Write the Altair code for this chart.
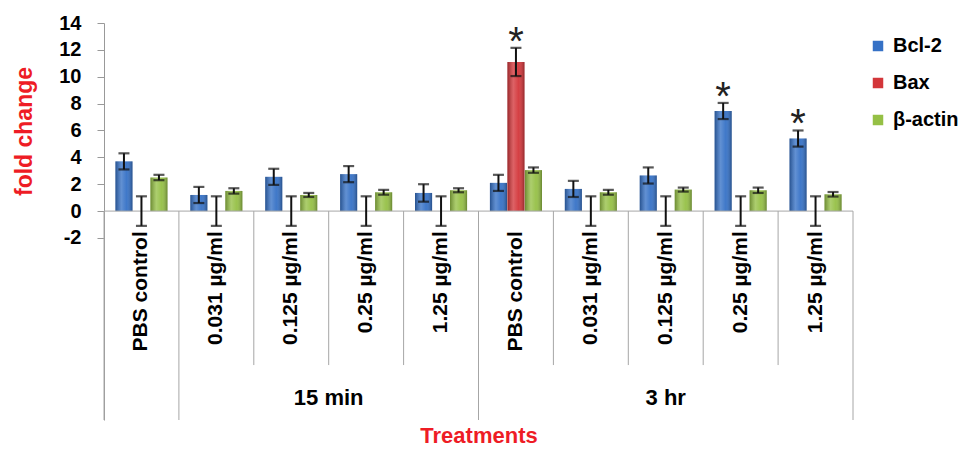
import altair as alt
import pandas as pd

# ---- data ----
categories = ["PBS control", "0.031 µg/ml", "0.125 µg/ml", "0.25 µg/ml", "1.25 µg/ml",
              "PBS control", "0.031 µg/ml", "0.125 µg/ml", "0.25 µg/ml", "1.25 µg/ml"]
series_names = ["Bcl-2", "Bax", "β-actin"]
bcl2 = [3.7, 1.2, 2.55, 2.75, 1.35, 2.1, 1.65, 2.65, 7.45, 5.4]
bcl2_err = [0.6, 0.6, 0.6, 0.6, 0.65, 0.6, 0.6, 0.6, 0.6, 0.6]
bax = [0, 0, 0, 0, 0, 11.1, 0, 0, 0, 0]
bax_err = [1.1, 1.1, 1.1, 1.1, 1.1, 1.05, 1.1, 1.1, 1.1, 1.1]
actin = [2.5, 1.5, 1.2, 1.4, 1.55, 3.05, 1.4, 1.6, 1.55, 1.25]
actin_err = [0.2, 0.2, 0.15, 0.18, 0.15, 0.2, 0.18, 0.15, 0.2, 0.17]
bcl2_sig = [0, 0, 0, 0, 0, 0, 0, 0, 1, 1]
bax_sig = [0, 0, 0, 0, 0, 1, 0, 0, 0, 0]
actin_sig = [0, 0, 0, 0, 0, 0, 0, 0, 0, 0]
group_names = ["15 min", "3 hr"]
group_first = [1, 5]   # first category index of the group
group_last = [4, 9]    # last category index of the group
long_separators = [0, 1, 5, 10]
y_ticks = [-2, 0, 2, 4, 6, 8, 10, 12, 14]

colors = ["#3571c6", "#d3363a", "#95c045"]
FONT = "Liberation Sans"

# ---- tables ----
rows = []
for j, (name, vals, errs, sigs) in enumerate(zip(
        series_names, [bcl2, bax, actin], [bcl2_err, bax_err, actin_err],
        [bcl2_sig, bax_sig, actin_sig])):
    for i in range(len(categories)):
        rows.append({"i": i, "j": j, "series": name, "value": vals[i],
                     "err": errs[i], "sig": sigs[i]})
df = pd.DataFrame(rows)

cat_df = pd.DataFrame({"i": list(range(len(categories))), "label": categories})
grp_df = pd.DataFrame({"label": group_names, "first": group_first, "last": group_last})
sep_df = pd.DataFrame({"b": list(range(len(categories) + 1))})
sep_df["long"] = sep_df["b"].isin(long_separators).astype(int)
zero_df = pd.DataFrame({"x0": [0], "x1": [len(categories)], "y": [0]})

NCAT = len(categories)
Y_BOTTOM = -15.55
xscale = alt.Scale(domain=[0, NCAT], nice=False, zero=False)
yscale = alt.Scale(domain=[Y_BOTTOM, 14], nice=False, zero=False)

base = alt.Chart(df).transform_calculate(
    c="datum.i + 0.5 + (datum.j - 1) * 0.2336",
    xl="datum.i + 0.5 + (datum.j - 1) * 0.2336 - 0.114",
    xr="datum.i + 0.5 + (datum.j - 1) * 0.2336 + 0.114",
    lo="datum.value - datum.err",
    hi="datum.value + datum.err",
)

bars = base.mark_bar().encode(
    x=alt.X("xl:Q", scale=xscale,
            axis=alt.Axis(labels=False, ticks=False, domain=False, grid=False,
                          title="Treatments", titleFont=FONT, titleFontSize=22,
                          titleFontWeight="bold", titleColor="#ee1c25",
                          titlePadding=5)),
    x2="xr:Q",
    y=alt.Y("value:Q", scale=yscale,
            axis=alt.Axis(values=y_ticks, grid=False, title="fold change",
                          titleFont=FONT, titleFontSize=23, titleFontWeight="bold",
                          titleColor="#ee1c25", titleX=-80, titleY=108,
                          titleBaseline="middle", titleAlign="center", titleAngle=270,
                          labelFont=FONT, labelFontSize=20, labelFontWeight="bold",
                          labelColor="black", labelPadding=16,
                          labelExpr="'' + datum.value",
                          tickSize=7, tickColor="#999999", domainColor="#999999",
                          domainWidth=1)),
    y2=alt.datum(0),
    color=alt.Color("series:N", sort=series_names,
                    scale=alt.Scale(domain=series_names, range=colors),
                    legend=alt.Legend(title=None, orient="none", legendX=764,
                                      legendY=13, padding=0, symbolType="square",
                                      symbolSize=110, symbolStrokeWidth=0,
                                      labelFont=FONT, labelFontSize=20,
                                      labelFontWeight="bold", labelColor="black",
                                      rowPadding=17, labelOffset=5)),
)

gloss = base.mark_bar(
    fill=alt.Gradient(
        gradient="linear", x1=0, x2=1, y1=0, y2=0,
        stops=[alt.GradientStop(color="rgba(0,0,0,0.28)", offset=0),
               alt.GradientStop(color="rgba(255,255,255,0.22)", offset=0.35),
               alt.GradientStop(color="rgba(255,255,255,0.05)", offset=0.65),
               alt.GradientStop(color="rgba(0,0,0,0.30)", offset=1)]),
).encode(
    x=alt.X("xl:Q", scale=xscale),
    x2="xr:Q",
    y=alt.Y("value:Q", scale=yscale),
    y2=alt.datum(0),
)

err_rule = base.mark_rule(color="#111111", strokeWidth=2).encode(
    x=alt.X("c:Q", scale=xscale),
    y=alt.Y("lo:Q", scale=yscale),
    y2="hi:Q",
)

caps = base.transform_fold(["lo", "hi"], as_=["end", "yy"]).mark_tick(
    color="#111111", orient="horizontal", size=11, thickness=2.2
).encode(
    x=alt.X("c:Q", scale=xscale),
    y=alt.Y("yy:Q", scale=yscale),
)

stars = base.transform_filter("datum.sig == 1").mark_text(
    text="*", font=FONT, fontSize=40, color="#222222", baseline="alphabetic",
    align="center", dy=7
).encode(
    x=alt.X("c:Q", scale=xscale),
    y=alt.Y("hi:Q", scale=yscale),
)

separators = alt.Chart(sep_df).transform_calculate(
    top="0",
    depth=f"datum.long == 1 ? {Y_BOTTOM} : -11.46"
).mark_rule(color="#a6a6a6", strokeWidth=1).encode(
    x=alt.X("b:Q", scale=xscale),
    y=alt.Y("top:Q", scale=yscale),
    y2="depth:Q",
)

zero_line = alt.Chart(zero_df).mark_rule(color="#a6a6a6", strokeWidth=1).encode(
    x=alt.X("x0:Q", scale=xscale),
    x2="x1:Q",
    y=alt.Y("y:Q", scale=yscale),
)

cat_labels = alt.Chart(cat_df).transform_calculate(
    cx="datum.i + 0.5", ly="-1.5"
).mark_text(
    angle=270, align="right", baseline="middle", font=FONT, fontSize=21,
    fontWeight="bold", color="black"
).encode(
    x=alt.X("cx:Q", scale=xscale),
    y=alt.Y("ly:Q", scale=yscale),
    text="label:N",
)

grp_labels = alt.Chart(grp_df).transform_calculate(
    gx="(datum.first + datum.last + 1) / 2", gy="-13.9"
).mark_text(
    align="center", baseline="middle", font=FONT, fontSize=22,
    fontWeight="bold", color="black"
).encode(
    x=alt.X("gx:Q", scale=xscale),
    y=alt.Y("gy:Q", scale=yscale),
    text="label:N",
)

chart = alt.layer(
    bars, gloss, separators, zero_line, err_rule, caps, stars, cat_labels, grp_labels
).properties(
    width=749, height=397,
    background="white",
    autosize=alt.AutoSizeParams(type="none"),
    padding={"left": 96, "top": 15, "right": 113, "bottom": 30},
).configure_view(stroke=None)

chart.save("out.html", embed_options={"renderer": "svg", "actions": False})
